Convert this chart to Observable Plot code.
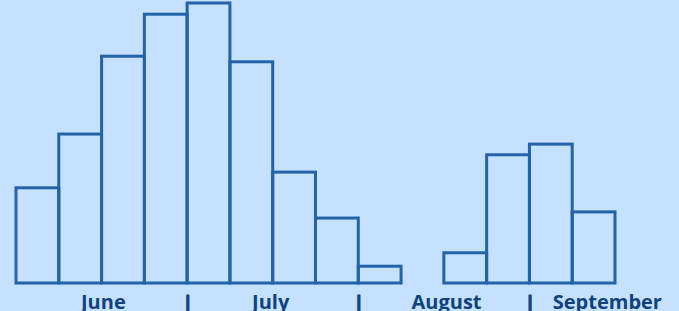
<!DOCTYPE html>
<html>
<head>
<meta charset="utf-8">
<script src="https://cdn.jsdelivr.net/npm/d3@7"></script>
<script src="https://cdn.jsdelivr.net/npm/@observablehq/plot@0.6"></script>
<style>
  html, body { margin: 0; padding: 0; background: #c5e1fd; }
  #chart svg { display: block; background: #c5e1fd; }
</style>
</head>
<body>
<div id="chart"></div>
<script>
// Weekly bins (index of week since start of June) and counts
const weeks = [0, 1, 2, 3, 4, 5, 6, 7, 8, 9, 10, 11, 12, 13];
const counts = [17, 26.6, 40.5, 48, 50, 39.5, 19.8, 11.6, 3, 0, 5.4, 22.9, 24.8, 12.7];

// Month labels and their positions (in weeks) plus separators
const monthNames = ["June", "July", "August", "September"];
const monthCenters = [2.03, 5.94, 10.05, 13.81];
const separators = [4, 8, 12];

const bars = weeks.map((w, i) => ({x1: w, x2: w + 1, y: counts[i]})).filter(d => d.y > 0);
const months = monthNames.map((m, i) => ({name: m, x: monthCenters[i]}));
const seps = separators.map(s => ({x: s}));

const navy = "#0f437f";
const stroke = "#2263a9";

const chart = Plot.plot({
  width: 679,
  height: 311,
  marginLeft: 16,
  marginRight: 64,
  marginTop: 3,
  marginBottom: 28,
  style: {background: "#c5e1fd", fontFamily: "'Open Sans', sans-serif"},
  x: {domain: [0, 14], axis: null},
  y: {domain: [0, 50], axis: null},
  marks: [
    Plot.rectY(bars, {x1: "x1", x2: "x2", y: "y", fill: "none", stroke: stroke, strokeWidth: 3, inset: 0}),
    Plot.text(months, {x: "x", text: "name", frameAnchor: "bottom", lineAnchor: "bottom", dy: 25, fontSize: 20, fontWeight: "bold", fill: navy}),
    Plot.text(seps, {x: "x", text: () => "|", frameAnchor: "bottom", lineAnchor: "bottom", dy: 26, fontSize: 20, fontWeight: "bold", fill: navy, stroke: navy, strokeWidth: 1})
  ]
});
document.getElementById("chart").appendChild(chart);
</script>
</body>
</html>
